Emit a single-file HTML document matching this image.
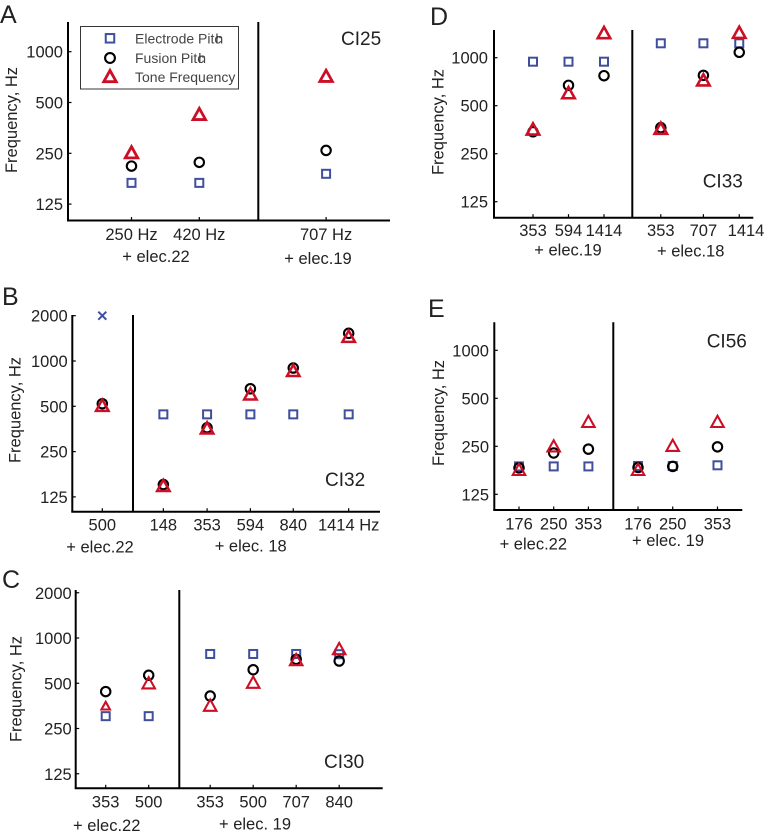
<!DOCTYPE html>
<html>
<head>
<meta charset="utf-8">
<title>Frequency panels</title>
<style>
html,body{margin:0;padding:0;background:#fff;}
svg{display:block;}
text{font-family:"Liberation Sans",sans-serif;fill:#222;}
</style>
</head>
<body>
<svg id="fig" width="767" height="837" viewBox="0 0 767 837" xmlns="http://www.w3.org/2000/svg"></svg>
<script>
// Y-axis ticks shared by the panels
const ticksShort = [1000, 500, 250, 125];
const ticksTall = [2000, 1000, 500, 250, 125];

// Panel A, CI25
const aCategories = ["250 Hz", "420 Hz", "707 Hz"];
const aSlots = [0, 1, 2.87];
const aElectrode = [167, 167, 189];
const aFusion = [210, 221, 260];
const aTone = [252, 425, 715];

// Panel B, CI32
const bCategories = ["500", "148", "353", "594", "840", "1414 Hz"];
const bSlots = [0, 1.41, 2.42, 3.42, 4.41, 5.69];
const bElectrode = [null, 442, 442, 442, 442, 442];
const bOffScale = [2000, null, null, null, null, null];
const bFusion = [520, 151, 360, 654, 898, 1528];
const bTone = [505, 148, 357, 600, 860, 1450];

// Panel C, CI30
const cCategories = ["353", "500", "353", "500", "707", "840"];
const cSlots = [0, 1, 2.43, 3.43, 4.43, 5.43];
const cElectrode = [302, 302, 783, 783, 783, 780];
const cFusion = [440, 565, 411, 615, 721, 703];
const cTone = [353, 500, 355, 505, 714, 845];

// Panel D, CI33
const dCategories = ["353", "594", "1414", "353", "707", "1414"];
const dSlots = [0, 1, 2, 3.6, 4.8, 5.81];
const dLabelSlots = [0, 1, 2, 3.6, 4.8, 6];
const dElectrode = [944, 944, 944, 1231, 1231, 1231];
const dFusion = [343, 671, 771, 364, 775, 1081];
const dTone = [355, 600, 1428, 359, 722, 1435];

// Panel E, CI56
const eCategories = ["176", "250", "353", "176", "250", "353"];
const eSlots = [0, 1, 2, 3.43, 4.43, 5.72];
const eElectrode = [187, 187, 187, 188, 188, 190];
const eFusion = [183, 227, 240, 184, 187, 248];
const eTone = [178, 250, 356, 178, 252, 356];

const NS = "http://www.w3.org/2000/svg";
const fig = document.getElementById("fig");
const BLUE = "#3f4f9c", RED = "#cc0f26", BLACK = "#000";

function make(tag, attrs, parent) {
  const el = document.createElementNS(NS, tag);
  for (const k in attrs) el.setAttribute(k, attrs[k]);
  parent.appendChild(el);
  return el;
}
function label(str, x, y, size, anchor, parent) {
  const t = make("text", {x: x, y: y, "font-size": size, "text-anchor": anchor}, parent);
  t.textContent = str;
  return t;
}
function drawSquare(x, y, s, parent) {
  return make("rect", {x: x - s / 2, y: y - s / 2, width: s, height: s, fill: "none", stroke: BLUE, "stroke-width": 2}, parent);
}
function drawCircle(x, y, r, parent) {
  return make("circle", {cx: x, cy: y, r: r, fill: "none", stroke: BLACK, "stroke-width": 2.1}, parent);
}
function drawTriangle(x, y, w, sw, parent) {
  const h = w * 0.9;
  const pts = (x - w / 2) + "," + (y + h * 0.46) + " " + (x + w / 2) + "," + (y + h * 0.46) + " " + x + "," + (y - h * 0.54);
  return make("polygon", {points: pts, fill: "none", stroke: RED, "stroke-width": sw}, parent);
}

const panels = [
  {id: "a", letter: "A", lx: 0, ly: 23, x0: 68, x1: 390, top: 22, bottom: 220.5, refY: 51.7, octave: 50.8, refHz: 1000,
   first: 131.5, step: 67.8, divider: 258.3, ticks: ticksShort, tickEnd: 63, titleX: 17, titleY: 120, toneStroke: 2.8,
   cats: aCategories, slots: aSlots, labelSlots: aSlots, labelY: 240, el: aElectrode, fu: aFusion, to: aTone,
   groups: [["+ elec.22", 156, 262], ["+ elec.19", 318, 264]], ci: ["CI25", 341, 45]},
  {id: "b", letter: "B", lx: 2, ly: 305, x0: 72.3, x1: 380, top: 315, bottom: 511.7, refY: 361, octave: 45.3, refHz: 1000,
   first: 102.3, step: 43.3, divider: 133, ticks: ticksTall, tickEnd: 67.7, titleX: 20.7, titleY: 410, toneStroke: 2.5,
   cats: bCategories, slots: bSlots, labelSlots: bSlots, labelY: 530.7, el: bElectrode, fu: bFusion, to: bTone, cross: bOffScale,
   groups: [["+ elec.22", 100, 552.7], ["+ elec. 18", 250.7, 551.7]], ci: ["CI32", 325, 486]},
  {id: "c", letter: "C", lx: 2, ly: 588, x0: 75.7, x1: 382.7, top: 590, bottom: 788.3, refY: 638, octave: 45.25, refHz: 1000,
   first: 105.7, step: 43, divider: 179.3, ticks: ticksTall, tickEnd: 71.7, titleX: 21.7, titleY: 689, toneStroke: 2.1,
   cats: cCategories, slots: cSlots, labelSlots: cSlots, labelY: 807.7, el: cElectrode, fu: cFusion, to: cTone, smallTone: 0,
   groups: [["+ elec.22", 106.7, 831], ["+ elec. 19", 255, 829.3]], ci: ["CI30", 324, 768]},
  {id: "d", letter: "D", lx: 430, ly: 25, x0: 494, x1: 753.3, top: 30, bottom: 217.7, refY: 57.7, octave: 48, refHz: 1000,
   first: 533, step: 35.5, divider: 632.3, ticks: ticksShort, tickEnd: 488, titleX: 443.3, titleY: 122, toneStroke: 2.6,
   cats: dCategories, slots: dSlots, labelSlots: dLabelSlots, labelY: 236, el: dElectrode, fu: dFusion, to: dTone,
   groups: [["+ elec.19", 568, 255.7], ["+ elec.18", 690.7, 256.7]], ci: ["CI33", 702.7, 187.7]},
  {id: "e", letter: "E", lx: 428, ly: 317, x0: 494.3, x1: 742.3, top: 322.3, bottom: 510, refY: 350.3, octave: 48, refHz: 1000,
   first: 519, step: 34.7, divider: 613.3, ticks: ticksShort, tickEnd: 489, titleX: 444, titleY: 413, toneStroke: 2.1,
   cats: eCategories, slots: eSlots, labelSlots: eSlots, labelY: 529.3, el: eElectrode, fu: eFusion, to: eTone,
   groups: [["+ elec.22", 533.3, 549.3], ["+ elec. 19", 668, 546]], ci: ["CI56", 706.7, 347.3]}
];

panels.forEach(function (p) {
  const yScale = function (hz) { return p.refY - Math.log2(hz / p.refHz) * p.octave; };
  const xScale = function (slot) { return p.first + slot * p.step; };

  const g = make("g", {}, fig);
  
  

  const letter = label(p.letter, p.lx, p.ly, 25, "start", g);
  
  

  const yAxis = make("line", {x1: p.x0, x2: p.x0, y1: p.top, y2: p.bottom, stroke: "#000", "stroke-width": 2}, g);
  
  

  const xAxis = make("line", {x1: p.x0 - 1, x2: p.x1, y1: p.bottom, y2: p.bottom, stroke: "#000", "stroke-width": 2}, g);
  
  

  const divider = make("line", {x1: p.divider, x2: p.divider, y1: p.top, y2: p.bottom, stroke: "#000", "stroke-width": 2}, g);
  
  

  p.ticks.forEach(function (t) {
    const y = yScale(t);
    const tick = make("line", {x1: p.x0, x2: p.x0 + 3.5, y1: y, y2: y, stroke: "#000", "stroke-width": 1.2}, g);
    
    
    const tl = label(String(t), p.tickEnd, y + 6, 16.5, "end", g);
    
    
  });

  const title = label("Frequency, Hz", 0, 0, 16.5, "middle", g);
  title.setAttribute("transform", "translate(" + p.titleX + "," + p.titleY + ") rotate(-90)");
  
  

  p.cats.forEach(function (c, i) {
    const x = xScale(p.slots[i]);
    const tick = make("line", {x1: x, x2: x, y1: p.bottom, y2: p.bottom - 3.5, stroke: "#000", "stroke-width": 1.2}, g);
    
    
    const tl = label(c, xScale(p.labelSlots[i]), p.labelY, 16.5, "middle", g);
    
    
  });

  p.groups.forEach(function (gr) {
    const t = label(gr[0], gr[1], gr[2], 16.5, "middle", g);
    
    
  });

  const ci = label(p.ci[0], p.ci[1], p.ci[2], 19, "start", g);
  
  

  p.el.forEach(function (v, i) {
    if (v === null) return;
    const m = drawSquare(xScale(p.slots[i]), yScale(v), 8, g);
    
    
  });

  if (p.cross) {
    p.cross.forEach(function (v, i) {
      if (v === null) return;
      const x = xScale(p.slots[i]), y = yScale(v);
      const m = make("path", {d: "M" + (x - 4) + " " + (y - 4) + "L" + (x + 4) + " " + (y + 4) + "M" + (x + 4) + " " + (y - 4) + "L" + (x - 4) + " " + (y + 4), fill: "none", stroke: BLUE, "stroke-width": 2}, g);
      
      
    });
  }

  p.fu.forEach(function (v, i) {
    const m = drawCircle(xScale(p.slots[i]), yScale(v), 4.7, g);
    
    
  });

  p.to.forEach(function (v, i) {
    const w = p.smallTone === i ? 8.5 : 12.5;
    const m = drawTriangle(xScale(p.slots[i]), yScale(v), w, p.toneStroke, g);
    
    
  });
});

// Legend in panel A
const legend = make("g", {}, fig);



const legendBox = make("rect", {x: 80.5, y: 26.5, width: 158, height: 62.5, fill: "#fff", stroke: "#222", "stroke-width": 0.9}, legend);



const keySquare = drawSquare(110, 38.3, 8.5, legend);



const keyCircle = drawCircle(110, 58, 4.9, legend);



const keyTriangle = drawTriangle(110, 76.5, 12.5, 2.8, legend);



function legendText(base, tail, y, name) {
  const t = make("text", {x: 135, y: y, "font-size": 14, style: "fill:#444"}, legend);
  t.textContent = base;
  if (tail) {
    const s = make("tspan", {dx: -6}, t);
    s.textContent = tail;
  }
  
  
}
legendText("Electrode Pitc", "h", 43.5, "legend-electrode-label");
legendText("Fusion Pitc", "h", 63, "legend-fusion-label");
legendText("Tone Frequency", "", 82, "legend-tone-label");
</script>
</body>
</html>
